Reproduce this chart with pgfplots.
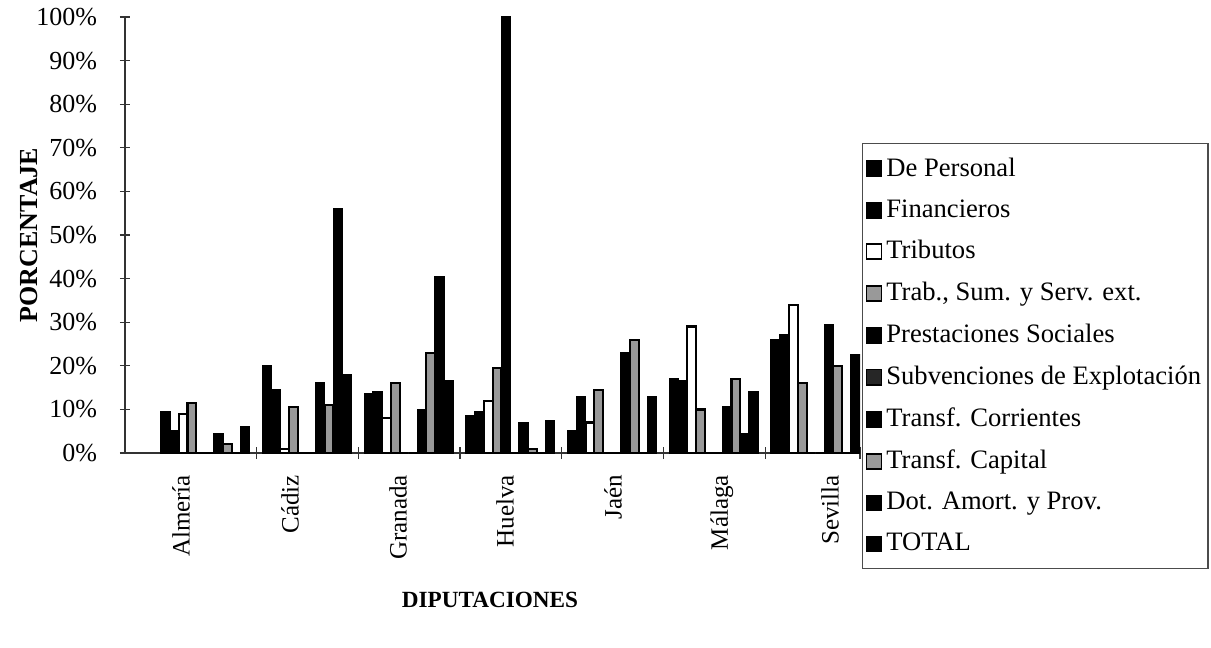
\documentclass[border=0pt]{standalone}
\usepackage{pgfplots}
\pgfplotsset{compat=1.18}
\usepackage{fontspec}
\setmainfont{Liberation Serif}
\begin{document}
\fontsize{13}{15}\selectfont
\begin{tikzpicture}
\useasboundingbox (-62.5pt,-97.5pt) rectangle (543pt,226.5pt);
\begin{axis}[
  scale only axis, width=367.5pt, height=218pt,
  xmin=125, xmax=860, ymin=0, ymax=100,
  ybar=0pt, bar width=8.85,
  legend image code/.code={\draw[#1,line width=0.8pt] (0pt,-3.8pt) rectangle (7.6pt,3.8pt);},
  axis lines*=left,
  axis line style={draw=black!80, line width=0.6pt},
  xtick={181,290,398,505,613,722,830},
  xticklabels={Almería,Cádiz,Granada,Huelva,Jaén,Málaga,Sevilla},
  xticklabel style={rotate=90, anchor=east, font=\fontsize{12.5}{14}\selectfont, xshift=-4pt},
  major x tick style={draw=none},
  minor xtick={256.6,358.3,460,561.7,663.4,765.1,860},
  minor tick length=6pt,
  major tick length=5pt,
  tick align=center,
  ytick={0,10,...,100},
  yticklabels={0\%,10\%,20\%,30\%,40\%,50\%,60\%,70\%,80\%,90\%,100\%},
  yticklabel style={font=\fontsize{13}{15}\selectfont, xshift=-7pt},
  tick style={draw=black!80, line width=0.6pt},
  ylabel={\textbf{PORCENTAJE}},
  ylabel style={at={(axis description cs:-0.13,0.5)}, anchor=center, font=\fontsize{13}{15}\selectfont},
  xlabel={\textbf{DIPUTACIONES}},
  xlabel style={at={(axis description cs:0.4966,-0.337)}, anchor=center, font=\fontsize{11.6}{14}\selectfont},
  legend style={at={(axis description cs:1.0027,0.711)}, anchor=north west,
    fill=white, draw=black!70, line width=0.6pt, font=\fontsize{13.3}{15}\selectfont,
    row sep=5.75pt, inner xsep=1.5pt, inner ysep=5pt},
  legend cell align=left,
  every axis plot/.append style={draw=black, line width=0.8pt},
]
% De Personal
\addplot[fill=black] coordinates {(205.25,9.5) (306.95,20) (408.65,13.5) (510.35,8.5) (612.05,5) (713.75,17) (815.45,26)};
% Financieros
\addplot[fill=black] coordinates {(205.25,5) (306.95,14.5) (408.65,14) (510.35,9.5) (612.05,13) (713.75,16.5) (815.45,27)};
% Tributos
\addplot[fill=white, line width=1.1pt] coordinates {(205.25,9) (306.95,1) (408.65,8) (510.35,12) (612.05,7) (713.75,29) (815.45,34)};
% Trab., Sum. y Serv. ext.
\addplot[fill=black!40, line width=1.1pt] coordinates {(205.25,11.5) (306.95,10.5) (408.65,16) (510.35,19.5) (612.05,14.5) (713.75,10) (815.45,16)};
% Prestaciones Sociales
\addplot[fill=black] coordinates {(205.25,0) (306.95,0) (408.65,0) (510.35,100) (612.05,0) (713.75,0) (815.45,0)};
% Subvenciones de Explotacion
\addplot[fill=black!85] coordinates {(205.25,0) (306.95,0) (408.65,0) (510.35,0) (612.05,0) (713.75,0) (815.45,0)};
% Transf. Corrientes
\addplot[fill=black] coordinates {(205.25,4.5) (306.95,16) (408.65,10) (510.35,7) (612.05,23) (713.75,10.5) (815.45,29.5)};
% Transf. Capital
\addplot[fill=black!40, line width=1.1pt] coordinates {(205.25,2) (306.95,11) (408.65,23) (510.35,1) (612.05,26) (713.75,17) (815.45,20)};
% Dot. Amort. y Prov.
\addplot[fill=black] coordinates {(205.25,0) (306.95,56) (408.65,40.5) (510.35,0) (612.05,0) (713.75,4.5) (815.45,0)};
% TOTAL
\addplot[fill=black] coordinates {(205.25,6) (306.95,18) (408.65,16.5) (510.35,7.5) (612.05,13) (713.75,14) (815.45,22.5)};
\legend{De Personal,Financieros,Tributos,{Trab., Sum. y Serv. ext.},Prestaciones Sociales,Subvenciones de Explotación,Transf. Corrientes,Transf. Capital,Dot. Amort. y Prov.,TOTAL}
\end{axis}
\end{tikzpicture}
\end{document}
